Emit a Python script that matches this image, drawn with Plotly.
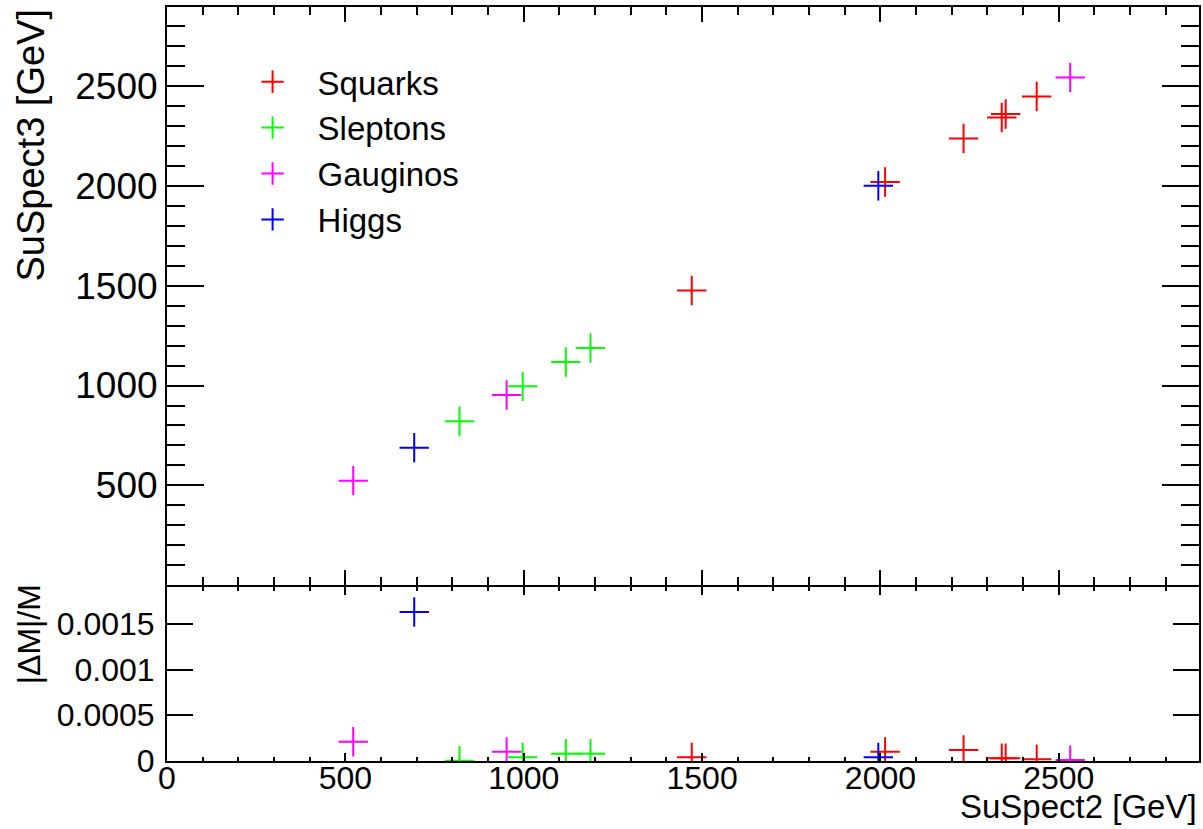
import plotly.graph_objects as go

# ---- data ----
squarks_x = [1471, 2013, 2233, 2340, 2351, 2438]
squarks_y = [1476, 2019, 2237, 2342, 2359, 2447]
squarks_d = [0.00004, 0.00010, 0.00012, 0.00003, 0.00003, 0.00002]

sleptons_x = [820, 997, 1118, 1187]
sleptons_y = [821, 996, 1118, 1188]
sleptons_d = [0.000004, 0.00004, 0.00008, 0.00008]

gauginos_x = [522, 952, 2532]
gauginos_y = [524, 953, 2542]
gauginos_d = [0.00021, 0.00010, 0.00001]

higgs_x = [693, 1994]
higgs_y = [689, 2000]
higgs_d = [0.00163, 0.00004]

series_names = ["Squarks", "Sleptons", "Gauginos", "Higgs"]
series_colors = ["#FF0000", "#00FF00", "#FF00FF", "#0000FF"]

x_ticks = [0, 500, 1000, 1500, 2000, 2500]
y_top_ticks = [500, 1000, 1500, 2000, 2500]
y_bot_ticks = [0, 0.0005, 0.001, 0.0015]
y_bot_labels = ["0", "0.0005", "0.001", "0.0015"]

FONT = "Liberation Sans, Arial, Helvetica, sans-serif"

fig = go.Figure()

series = [
    (squarks_x, squarks_y, squarks_d),
    (sleptons_x, sleptons_y, sleptons_d),
    (gauginos_x, gauginos_y, gauginos_d),
    (higgs_x, higgs_y, higgs_d),
]

for (sx, sy, sd), name, col in zip(series, series_names, series_colors):
    mk = dict(symbol="cross-thin", size=21, color=col, line=dict(color=col, width=2))
    fig.add_trace(go.Scatter(x=sx, y=sy, mode="markers", name=name, marker=mk,
                             xaxis="x", yaxis="y", showlegend=True))
    fig.add_trace(go.Scatter(x=sx, y=sd, mode="markers", name=name, marker=mk,
                             xaxis="x2", yaxis="y2", showlegend=False))

PH = 754.0
split = 0.2317
gap = 1.0 / PH
XR = [0, 2893]

common = dict(showline=True, linecolor="black", linewidth=2, mirror="allticks",
              ticks="inside", tickcolor="black", tickwidth=2, showgrid=False,
              zeroline=False)

fig.update_layout(
    width=1203, height=829,
    margin=dict(l=167, r=2, t=7, b=68),
    paper_bgcolor="white", plot_bgcolor="white",
    font=dict(family=FONT, color="black"),
    xaxis=dict(domain=[0, 1], anchor="y", range=XR, showticklabels=False,
               tickmode="array", tickvals=x_ticks, ticklen=15,
               minor=dict(tickmode="linear", tick0=0, dtick=100, ticklen=8,
                          ticks="inside", tickcolor="black", tickwidth=2, showgrid=False),
               **common),
    yaxis=dict(domain=[split + gap, 1], anchor="x", range=[0, 2895],
               tickmode="array", tickvals=y_top_ticks, ticklen=37,
               tickfont=dict(size=37, family=FONT, color="black"),
               ticklabelstandoff=0,
               minor=dict(tickmode="linear", tick0=0, dtick=100, ticklen=18,
                          ticks="inside", tickcolor="black", tickwidth=2, showgrid=False),
               **common),
    xaxis2=dict(domain=[0, 1], anchor="y2", range=XR, matches="x",
                tickmode="array", tickvals=x_ticks, ticklen=8,
                tickfont=dict(size=32, family=FONT, color="black"),
                ticklabelstandoff=-12,
                minor=dict(tickmode="linear", tick0=0, dtick=100, ticklen=4,
                           ticks="inside", tickcolor="black", tickwidth=2, showgrid=False),
                **common),
    yaxis2=dict(domain=[0, split - gap], anchor="x2", range=[0, 0.0019],
                tickmode="array", tickvals=y_bot_ticks, ticktext=y_bot_labels, ticklen=26,
                tickfont=dict(size=32, family=FONT, color="black"),
                ticklabelstandoff=4,
                **common),
    legend=dict(x=0.0587, y=0.938, xanchor="left", yanchor="top",
                font=dict(size=33, family=FONT, color="black"),
                bgcolor="rgba(0,0,0,0)", borderwidth=0, itemwidth=80,
                tracegroupgap=0),
    showlegend=True,
)

fig.add_annotation(text="SuSpect3 [GeV]", textangle=-90, showarrow=False,
                   xref="paper", yref="paper", x=0, y=1, xanchor="center", yanchor="top",
                   xshift=-137, font=dict(size=38, family=FONT, color="black"))
fig.add_annotation(text="|ΔM|/M", textangle=-90, showarrow=False,
                   xref="paper", yref="paper", x=0, y=split, xanchor="center", yanchor="top",
                   xshift=-138, yshift=4, font=dict(size=32, family=FONT, color="black"))
fig.add_annotation(text="SuSpect2 [GeV]", showarrow=False,
                   xref="paper", yref="paper", x=1, y=0, xanchor="right", yanchor="top",
                   yshift=-25, font=dict(size=33, family=FONT, color="black"))

fig.write_html("out.html")
